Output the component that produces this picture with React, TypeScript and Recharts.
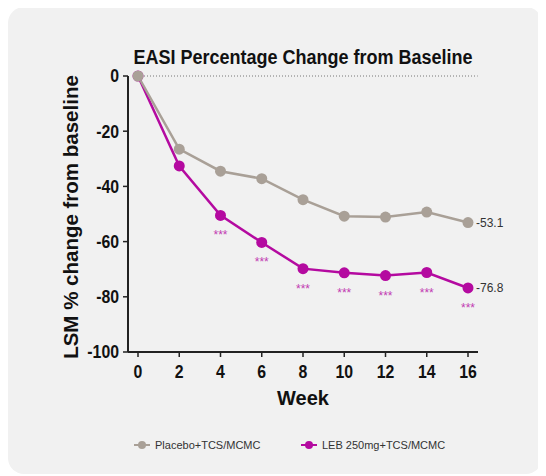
import { LineChart, Line, XAxis, YAxis, ReferenceLine, Legend } from "recharts";

const weeks = [0, 2, 4, 6, 8, 10, 12, 14, 16];
const placebo = [0, -26.5, -34.5, -37.2, -44.8, -50.8, -51.1, -49.3, -53.1];
const leb = [0, -32.6, -50.5, -60.3, -69.8, -71.3, -72.3, -71.2, -76.8];
const stars = ["", "", "***", "***", "***", "***", "***", "***", "***"];
const yTicks = [-100, -80, -60, -40, -20, 0];

const data = weeks.map((w, i) => ({ week: w, placebo: placebo[i], leb: leb[i] }));

const GREY = "#a9a097";
const MAGENTA = "#b40aa0";
const SANS = "'Liberation Sans', Arial, sans-serif";

// bold tick text, squeezed a little to look like the narrow face in the original
const NarrowTick = (props: any) => {
  const { x, y, payload, anchor, dy } = props;
  return (
    <text
      transform={`translate(${x} ${y}) scale(0.88 1)`}
      textAnchor={anchor}
      dy={dy}
      fill="#111"
      fontSize={18}
      fontWeight="bold"
      fontFamily={SANS}
    >
      {payload.value}
    </text>
  );
};

const starLabel = (props: any) => {
  const { x, y, index } = props;
  if (!stars[index]) return null;
  return (
    <text x={x} y={y + 24} textAnchor="middle" fontSize={12} fill="#c23bb2" fontFamily={SANS}>
      {stars[index]}
    </text>
  );
};

const endLabel = (props: any) => {
  const { x, y, index, value } = props;
  if (index !== weeks.length - 1) return null;
  return (
    <text x={x + 8} y={y + 4} fontSize={12} fill="#333" fontFamily={SANS}>
      {value.toFixed(1)}
    </text>
  );
};

const lebLabel = (props: any) => (
  <g>
    {starLabel(props)}
    {endLabel(props)}
  </g>
);

const LegendBox = () => (
  <div style={{ position: "relative", height: 20, fontFamily: SANS, fontSize: 11, color: "#333" }}>
    {[
      { name: "Placebo+TCS/MCMC", color: GREY, x: 126 },
      { name: "LEB 250mg+TCS/MCMC", color: MAGENTA, x: 293 },
    ].map((it) => (
      <div key={it.name} style={{ position: "absolute", left: it.x, top: 0, height: 20, display: "flex", alignItems: "center" }}>
        <svg width={16} height={10} style={{ marginRight: 5 }}>
          <line x1={0} y1={5} x2={16} y2={5} stroke={it.color} strokeWidth={2} />
          <circle cx={8} cy={5} r={4} fill={it.color} />
        </svg>
        <span>{it.name}</span>
      </div>
    ))}
  </div>
);

export default function App() {
  return (
    <div
      style={{
        position: "relative",
        width: 534,
        height: 467,
        marginTop: -1,
        background: "#f1f1f1",
        borderRadius: 16,
      }}
    >
      <div
        style={{
          position: "absolute",
          left: 95,
          top: 39,
          width: 400,
          height: 22,
          lineHeight: "22px",
          textAlign: "center",
          fontFamily: SANS,
          fontWeight: "bold",
          fontSize: 20,
          color: "#111",
          transform: "scaleX(0.9)",
          whiteSpace: "nowrap",
        }}
      >
        EASI Percentage Change from Baseline
      </div>
      <LineChart width={534} height={467} data={data} margin={{ top: 69, right: 64, left: 0, bottom: 19 }}>
        <XAxis
          dataKey="week"
          type="number"
          domain={[0, 16]}
          ticks={weeks}
          padding={{ left: 10, right: 10 }}
          height={83}
          tickSize={5}
          tickMargin={8}
          axisLine={{ stroke: "#222", strokeWidth: 2 }}
          tickLine={{ stroke: "#222", strokeWidth: 1.5 }}
          tick={(p: any) => <NarrowTick {...p} anchor="middle" dy="0.71em" />}
          label={{
            value: "Week",
            position: "insideTop",
            offset: 39,
            fill: "#111",
            fontSize: 20,
            fontWeight: "bold",
            fontFamily: SANS,
          }}
        />
        <YAxis
          type="number"
          domain={[-100, 0]}
          ticks={yTicks}
          width={120}
          tickSize={5}
          tickMargin={4}
          axisLine={{ stroke: "#222", strokeWidth: 2 }}
          tickLine={{ stroke: "#222", strokeWidth: 1.5 }}
          tick={(p: any) => <NarrowTick {...p} anchor="end" dy="0.355em" />}
          label={{
            content: ({ viewBox }: any) => {
              const cy = viewBox.y + viewBox.height / 2 + 3;
              const cx = 62;
              return (
                <text
                  x={cx}
                  y={cy}
                  transform={`rotate(-90 ${cx} ${cy})`}
                  textAnchor="middle"
                  dominantBaseline="central"
                  fontSize={20.5}
                  fontWeight="bold"
                  fontFamily={SANS}
                  fill="#111"
                >
                  LSM % change from baseline
                </text>
              );
            },
          }}
        />
        <ReferenceLine
          segment={[
            { x: 0, y: 0 },
            { x: 16.47, y: 0 },
          ]}
          ifOverflow="visible"
          stroke="#777"
          strokeWidth={1}
          strokeDasharray="1 2"
        />
        <Legend verticalAlign="bottom" wrapperStyle={{ left: 0, bottom: 19, width: 534, height: 20 }} content={<LegendBox />} />
        <Line
          dataKey="leb"
          stroke={MAGENTA}
          strokeWidth={2.5}
          dot={{ r: 5.5, fill: MAGENTA, stroke: MAGENTA, strokeWidth: 0 }}
          label={lebLabel}
          isAnimationActive={false}
        />
        <Line
          dataKey="placebo"
          stroke={GREY}
          strokeWidth={2.5}
          dot={{ r: 5.5, fill: GREY, stroke: GREY, strokeWidth: 0 }}
          label={endLabel}
          isAnimationActive={false}
        />
      </LineChart>
    </div>
  );
}
